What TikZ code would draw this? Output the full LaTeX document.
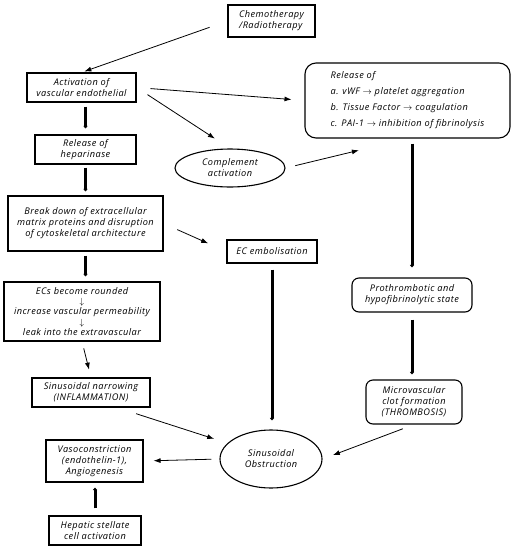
\documentclass[tikz,border=0pt]{standalone}
\usepackage{fontspec}
\setmainfont{Open Sans}[LetterSpace=5]
\usetikzlibrary {shapes.geometric, arrows.meta}

\begin{document}
\begin{tikzpicture}[x=1pt, y=-1pt]
% Define the node styles
\tikzstyle{box} = [draw, line width=1.1pt, align=center, inner sep=1pt, text=black, font=\fontsize{9.2}{11}\selectfont\itshape]
\tikzstyle{rbox} = [box, rounded corners=7pt]
\tikzstyle{oval} = [box, ellipse]
\tikzstyle{link} = [line width=0.8pt, -{Latex[length=7pt, width=5pt]}]
\tikzstyle{bigarrow} = [line width=3pt, -{Latex[length=2.5pt, width=5pt]}]

\useasboundingbox (0,0) rectangle (515,550);

% Define the nodes
\node[box, align=left, minimum width=87, minimum height=32] (CR) at (271.5, 21) {Chemotherapy\\/Radiotherapy};
\node[box, minimum width=109, minimum height=29] (AV) at (81.5, 87.5) {Activation of\\vascular endothelial};
\node[box, minimum width=101, minimum height=29] (RH) at (85.5, 149.5) {Release of\\heparinase};
\node[oval, minimum width=110, minimum height=38] (CA) at (230, 168) {Complement\\activation};
\node[rbox, rounded corners=11pt, align=left, minimum width=205, minimum height=75] (RL) at (407.5, 100.5)
  {Release of\\[5pt]
   a. vWF $\rightarrow$ platelet aggregation\\[5pt]
   b. Tissue Factor $\rightarrow$ coagulation\\[5pt]
   c. PAI-1 $\rightarrow$ inhibition of fibrinolysis};
\node[box, minimum width=155, minimum height=55] (BD) at (85.5, 223.5) {Break down of extracellular\\matrix proteins and disruption\\of cytoskeletal architecture};
\node[box, minimum width=90, minimum height=23] (EE) at (272, 251.5) {EC embolisation};
\node[rbox, minimum width=120, minimum height=34] (PH) at (412, 295) {Prothrombotic and\\hypofibrinolytic state};
\node[box, minimum width=156, minimum height=59, font=\fontsize{9.2}{10.4}\selectfont\itshape] (EC) at (82, 311.5)
  {ECs become rounded\\$\downarrow$\\increase vascular permeability\\$\downarrow$\\leak into the extravascular};
\node[box, minimum width=118, minimum height=29] (SN) at (91, 392.5) {Sinusoidal narrowing\\(INFLAMMATION)};
\node[rbox, minimum width=96, minimum height=44] (MC) at (414, 402) {Microvascular\\clot formation\\(THROMBOSIS)};
\node[oval, minimum width=102, minimum height=58] (SO) at (271, 459) {Sinusoidal\\Obstruction};
\node[box, minimum width=97, minimum height=42] (VC) at (94.5, 461) {Vasoconstriction\\(endothelin-1),\\Angiogenesis};
\node[box, minimum width=92, minimum height=29] (HS) at (95, 530.5) {Hepatic stellate\\cell activation};

% Define the thin arrows
\draw[link, shorten <=19pt, shorten >=3pt] (CR.west) -- (AV.north);
\draw[link, shorten <=14pt, shorten >=13pt] (AV.east) -- (RL.west);
\draw[link, shorten <=13pt, shorten >=18pt] (AV.east) -- (CA.north);
\draw[link, shorten <=10pt, shorten >=50pt] (CA.east) -- (RL.south);
\draw[link, shorten <=15pt, shorten >=20pt] (BD.east) -- (EE.west);
\draw[link, shorten <=7pt, shorten >=8pt] (EC.south) -- (SN.north);
\draw[link, shorten <=20pt, shorten >=14pt] (SN.-30) -- (SO.160);
\draw[link, shorten <=8pt, shorten >=10pt] (SO.west) -- (VC.east);
\draw[link, shorten <=12pt, shorten >=11pt] (MC.south) -- (SO.east);

% Define the thick arrows
\draw[bigarrow, shorten <=4pt, shorten >=6pt] (RH.north |- AV.south) -- (RH.north);
\draw[bigarrow, shorten <=3pt, shorten >=4pt] (RH.south) -- (BD.north);
\draw[bigarrow, shorten <=4pt, shorten >=5pt] (BD.south) -- (BD.south |- EC.north);
\draw[bigarrow, shorten <=6pt, shorten >=9pt] (EE.south) -- (EE.south |- SO.north);
\draw[bigarrow, shorten <=5pt, shorten >=10pt] (PH.north |- RL.south) -- (PH.north);
\draw[bigarrow, shorten <=7pt, shorten >=5pt] (PH.south) -- (PH.south |- MC.north);
\draw[bigarrow, shorten <=7pt, shorten >=5pt] (HS.north) -- (HS.north |- VC.south);

\end{tikzpicture}
\end{document}
